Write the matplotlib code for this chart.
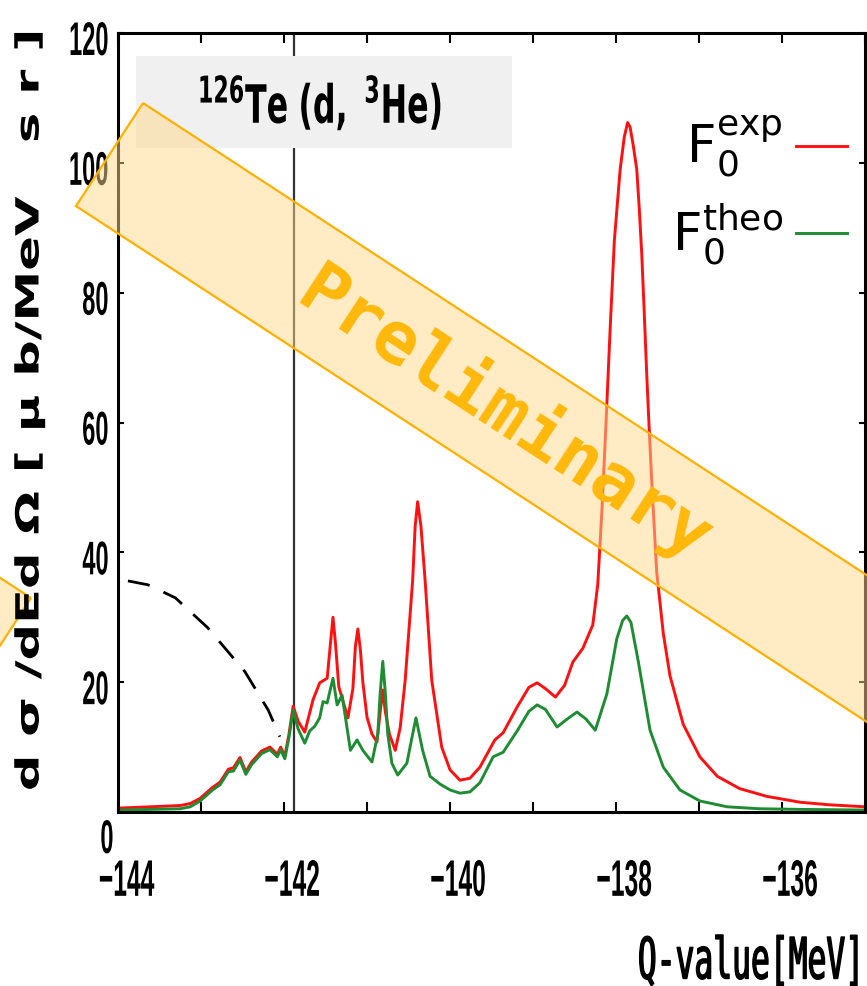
import matplotlib
matplotlib.use('Agg')
import matplotlib.pyplot as plt
import matplotlib.patheffects as pe
from matplotlib.transforms import Affine2D
from matplotlib.patches import Polygon, Rectangle
from matplotlib.ticker import MultipleLocator

# values
q_exp = [-144.00, -143.61, -143.25, -143.13, -143.01, -142.86, -142.77, -142.67, -142.61,
         -142.53, -142.46, -142.39, -142.27, -142.17, -142.08, -142.04, -141.99, -141.94,
         -141.89, -141.83, -141.75, -141.65, -141.57, -141.48, -141.44, -141.41, -141.38,
         -141.34, -141.23, -141.17, -141.14, -141.11, -141.08, -141.05, -141.00, -140.94,
         -140.88, -140.84, -140.81, -140.78, -140.73, -140.66, -140.60, -140.54, -140.45,
         -140.42, -140.39, -140.35, -140.30, -140.22, -140.10, -140.00, -139.88, -139.76,
         -139.64, -139.46, -139.36, -139.19, -139.05, -138.95, -138.85, -138.73, -138.62,
         -138.52, -138.40, -138.28, -138.22, -138.17, -138.12, -138.07, -138.02, -137.95,
         -137.90, -137.86, -137.83, -137.79, -137.75, -137.72, -137.69, -137.66, -137.63,
         -137.60, -137.57, -137.54, -137.51, -137.43, -137.35, -137.19, -136.99, -136.78,
         -136.51, -136.18, -135.78, -135.42, -135.00]
f_exp = [0.6, 0.8, 1.0, 1.3, 2.1, 3.8, 4.6, 6.6, 6.8,
         8.4, 6.2, 7.7, 9.4, 10.0, 8.9, 10.0, 8.6, 12.0,
         16.3, 14.0, 12.3, 17.3, 19.9, 20.6, 26.0, 30.0, 26.0,
         19.3, 14.5, 19.0, 25.5, 28.2, 25.0, 20.0, 14.6, 12.0,
         10.8, 15.5, 18.8, 15.5, 12.0, 9.5, 13.0, 20.3, 35.7,
         44.0, 47.8, 44.0, 35.7, 20.3, 10.0, 6.5, 4.9, 5.2,
         6.9, 11.1, 12.2, 16.2, 19.2, 19.9, 19.0, 17.7, 19.5,
         23.1, 25.2, 28.8, 35.0, 46.4, 60.0, 74.6, 88.0, 99.0,
         104.0, 106.2, 105.5, 102.5, 99.0, 93.0, 86.0, 77.0, 67.5,
         59.0, 51.0, 44.0, 37.0, 27.5, 21.0, 13.5, 8.5, 5.5,
         3.6, 2.4, 1.5, 1.1, 0.8]

q_theo = [-144.00, -143.61, -143.25, -143.13, -143.01, -142.86, -142.77, -142.67, -142.61,
          -142.53, -142.46, -142.39, -142.27, -142.17, -142.08, -142.04, -141.99, -141.94,
          -141.89, -141.83, -141.75, -141.69, -141.63, -141.57, -141.53, -141.48, -141.41,
          -141.36, -141.30, -141.20, -141.12, -141.05, -140.94, -140.87, -140.84, -140.81,
          -140.78, -140.75, -140.70, -140.63, -140.52, -140.45, -140.41, -140.37, -140.33,
          -140.24, -140.12, -140.00, -139.88, -139.76, -139.64, -139.48, -139.36, -139.19,
          -139.05, -138.95, -138.85, -138.71, -138.59, -138.47, -138.36, -138.25, -138.11,
          -137.99, -137.92, -137.87, -137.82, -137.73, -137.59, -137.43, -137.23, -136.99,
          -136.66, -136.27, -135.78, -135.00]
f_theo = [0.3, 0.4, 0.5, 0.8, 1.7, 3.4, 4.2, 6.2, 6.3,
          8.0, 5.8, 7.3, 9.0, 9.6, 8.5, 9.6, 8.2, 11.5,
          15.7, 12.8, 10.6, 12.5, 13.2, 14.5, 17.0, 16.8, 20.6,
          16.5, 18.0, 9.5, 11.1, 9.5, 7.7, 12.0, 18.5, 23.2,
          18.5, 12.0, 7.5, 5.7, 7.5, 12.0, 14.5, 12.0, 9.5,
          5.5, 4.3, 3.4, 2.9, 3.1, 4.5, 8.5, 9.2, 12.5,
          15.5, 16.5, 15.8, 13.1, 14.3, 15.4, 14.3, 12.6, 18.2,
          26.7, 29.5, 30.2, 29.2, 23.1, 12.6, 6.9, 3.4, 1.7,
          0.8, 0.5, 0.4, 0.3]

q_dash = [-143.88, -143.64, -143.31, -142.92, -142.47, -142.19, -142.05]
f_dash = [35.6, 35.0, 33.0, 28.4, 21.6, 15.7, 11.6]
q_line = -141.88

x_ticks = [-144, -142, -140, -138, -136]
y_ticks = [20, 40, 60, 80, 100, 120]

W, H = 867, 986


def fxy(x, y):
    # pixel position (from top left) -> figure fraction
    return (x / W, 1 - y / H)


class Squeeze(pe.AbstractPathEffect):
    # narrow (or widen) the glyphs, the original uses a condensed font
    def __init__(self, sx, anchor='center', dx=0, dy=0, stroke=0):
        super().__init__()
        self.sx, self.anchor, self.dx, self.dy = sx, anchor, dx, dy
        self.stroke = stroke

    def draw_path(self, renderer, gc, tpath, affine, rgbFace=None):
        ext = tpath.get_extents()
        x0 = {'left': ext.x0, 'center': (ext.x0 + ext.x1) / 2, 'right': ext.x1}[self.anchor]
        t = Affine2D().translate(-x0, 0).scale(self.sx, 1).translate(x0, 0)
        tr = t + affine + Affine2D().translate(self.dx, self.dy)
        if self.stroke:
            gc0 = renderer.new_gc()
            gc0.copy_properties(gc)
            gc0.set_linewidth(self.stroke)
            gc0.set_foreground(rgbFace)
            renderer.draw_path(gc0, tpath, tr, rgbFace)
            gc0.restore()
        else:
            renderer.draw_path(gc, tpath, tr, rgbFace)


fig = plt.figure(figsize=(W / 100, H / 100), dpi=100)
ax = fig.add_axes([118 / W, 1 - 812 / H, 747 / W, 779 / H])

ax.plot(q_exp, f_exp, color='#ff1010', lw=2.1, label=r'$\mathrm{F}_{\rm 0}^{\rm exp}$')
ax.plot(q_theo, f_theo, color='#1e8c32', lw=2.1, label=r'$\mathrm{F}_{\rm 0}^{\rm theo}$')
ax.plot(q_dash, f_dash, color='black', lw=2.0, dashes=(8, 5.5))
ax.axvline(q_line, color='#333333', lw=1.6, zorder=1)

ax.set_xlim(-144, -135)
ax.set_ylim(0, 120)
ax.set_xticks(x_ticks)
ax.xaxis.set_minor_locator(MultipleLocator(1))
ax.set_yticks(y_ticks)
for s in ax.spines.values():
    s.set_linewidth(2.2)
ax.tick_params(axis='x', which='both', direction='in', top=True, length=7, width=1.5,
               pad=33, labelsize=37, labelfontfamily='Liberation Sans')
ax.tick_params(axis='y', direction='in', right=True, length=4.5, width=1.5,
               pad=6, labelsize=34, labelfontfamily='Liberation Sans')
for lab in ax.get_xticklabels():
    lab.set_fontweight('bold')
    lab.set_path_effects([Squeeze(0.48, 'center', dx=8)])
for lab in ax.get_yticklabels():
    lab.set_fontweight('bold')
    lab.set_path_effects([Squeeze(0.5, 'right', dy=-5)])

leg = ax.legend(loc='upper right', bbox_to_anchor=fxy(847, 114), bbox_transform=fig.transFigure,
                markerfirst=False, frameon=False, fontsize=37, handlelength=1.0,
                handletextpad=0.25, labelspacing=0.42, borderpad=0, borderaxespad=0)

# "0" of the y axis sits below the corner in the original
fig.text(*fxy(107, 841), '0', ha='center', va='center', fontsize=34, family='Liberation Sans',
         fontweight='bold', path_effects=[Squeeze(0.5)])

fig.text(*fxy(30, 410), 'd σ /dEd Ω [ μ b/MeV   s r ]', rotation=90,
         ha='center', va='center', fontsize=23, fontweight='bold',
         path_effects=[Squeeze(1.6)])
fig.text(*fxy(865, 963), 'Q-value[MeV]', ha='right', va='center', fontsize=41,
         family='DejaVu Sans Mono', path_effects=[Squeeze(0.55, 'right', dx=6, stroke=1.0)])

# title box
x0, y0 = fxy(136, 148)
x1, y1 = fxy(512, 56)
fig.add_artist(Rectangle((x0, y0), x1 - x0, y1 - y0, transform=fig.transFigure,
                         facecolor='#f0f0f0', edgecolor='none', zorder=0.5))
fig.text(*fxy(319, 104), r'$\mathbf{{}^{126}Te\ (d,\ {}^{3}He)}$', ha='center', va='center',
         fontsize=38, zorder=0.6, path_effects=[Squeeze(0.6)])

# "Preliminary" bands
ux, uy = 0.837, 0.546
vx, vy = -0.545, 0.838
band_w, band_l = 123, 1100
ax_, ay_ = 143, 103
main = [(ax_, ay_), (ax_ + band_l * ux, ay_ + band_l * uy),
        (ax_ + band_l * ux + band_w * vx, ay_ + band_l * uy + band_w * vy),
        (ax_ + band_w * vx, ay_ + band_w * vy)]
cx, cy = 31, 598
side = [(cx, cy), (cx - band_l * ux, cy - band_l * uy),
        (cx - band_l * ux + band_w * vx, cy - band_l * uy + band_w * vy),
        (cx + band_w * vx, cy + band_w * vy)]
for poly in (main, side):
    fig.add_artist(Polygon([fxy(px, py) for px, py in poly], closed=True,
                           transform=fig.transFigure, facecolor='#ffd98a', alpha=0.5,
                           edgecolor='none', zorder=1))
    fig.add_artist(Polygon([fxy(px, py) for px, py in poly], closed=True,
                           transform=fig.transFigure, facecolor='none',
                           edgecolor='#ffb000', lw=1.6, zorder=1.1))

fig.text(*fxy(505, 415), 'Preliminary', rotation=-33.1, rotation_mode='anchor',
         ha='center', va='center', fontsize=52, family='DejaVu Sans Mono',
         fontweight='bold', color='#ffb80a', zorder=3)

fig.savefig('out.png', dpi=100)
